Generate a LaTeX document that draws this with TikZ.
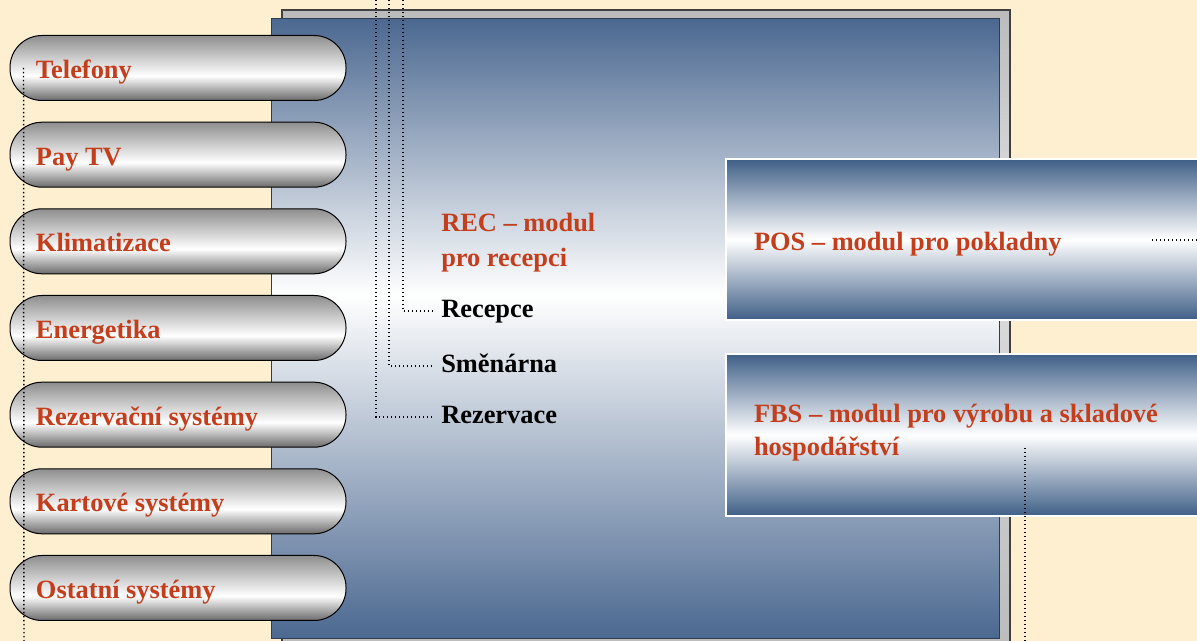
\documentclass[tikz,border=0pt]{standalone}
\usepackage{fontspec}
\setmainfont{Liberation Serif}

\definecolor{cream}{HTML}{FEEFD0}
\definecolor{panelblue}{HTML}{4B6890}
\definecolor{paneledge}{HTML}{2E3D52}
\definecolor{modblue}{HTML}{3F5F87}
\definecolor{pilltop}{HTML}{8E8E8E}
\definecolor{pillbot}{HTML}{6A6A6A}
\definecolor{platetop}{HTML}{BBBBBB}
\definecolor{platemid}{HTML}{E0E0E0}
\definecolor{plateedge}{HTML}{404040}
\definecolor{textred}{HTML}{C43E1C}

\pgfdeclareverticalshading{panel}{100bp}{color(0bp)=(panelblue); color(25bp)=(panelblue); color(52.7bp)=(white); color(75bp)=(panelblue); color(100bp)=(panelblue)}
\pgfdeclareverticalshading{pill}{100bp}{color(0bp)=(pillbot); color(25bp)=(pillbot); color(44bp)=(white); color(75bp)=(pilltop); color(100bp)=(pilltop)}
\pgfdeclareverticalshading{module}{100bp}{color(0bp)=(modblue); color(25bp)=(modblue); color(50bp)=(white); color(75bp)=(modblue); color(100bp)=(modblue)}
\pgfdeclareverticalshading{plate}{100bp}{color(0bp)=(platetop); color(25bp)=(platetop); color(58bp)=(platemid); color(75bp)=(platetop); color(100bp)=(platetop)}

\begin{document}
\begin{tikzpicture}[x=0.75pt,y=-0.75pt,
	pill node/.style={shade,shading=pill,draw=black,line width=0.75pt,rounded corners=24pt,
		minimum width=252pt,minimum height=48.75pt,inner xsep=19.5pt,text width=213pt,align=flush left,
		text height=16.6pt,text depth=1pt,
		text=textred,font=\bfseries\fontsize{19.8pt}{26pt}\selectfont},
	module box/.style={shade,shading=module,draw=white,line width=1.5pt,anchor=north west,
		minimum width=378.75pt,minimum height=120.75pt,inner xsep=21pt,text width=336.75pt,align=flush left,
		text=textred,font=\bfseries\fontsize{19.8pt}{24.75pt}\selectfont},
	module label/.style={anchor=north west,inner xsep=6pt,inner ysep=0pt,text height=15pt,align=left,
		text=textred,font=\bfseries\fontsize{19.8pt}{26.25pt}\selectfont},
	sub label/.style={anchor=west,inner xsep=6pt,text height=14pt,text depth=4pt,text=black,
		font=\bfseries\fontsize{19.8pt}{26pt}\selectfont},
	dot line/.style={line width=1.1pt,dash pattern=on 1pt off 2pt}]
	\useasboundingbox (0,0) rectangle (1197,641);
	\clip (0,0) rectangle (1197,641);
	\fill[cream] (0,0) rectangle (1197,641);
	\path[shade,shading=plate,draw=plateedge,line width=0.9pt] (282,10) rectangle (1010,660);
	\path[shade,shading=panel,draw=paneledge,line width=0.75pt] (271,18.7) rectangle (999,638.5);

	\node[pill node] (tel) at (178,68) {Telefony};
	\node[pill node] (paytv) at (178,154.7) {Pay TV};
	\node[pill node] (klima) at (178,241.3) {Klimatizace};
	\node[pill node] (energ) at (178,328) {Energetika};
	\node[pill node] (rezsys) at (178,414.7) {Rezervační systémy};
	\node[pill node] (karty) at (178,501.3) {Kartové systémy};
	\node[pill node] (ostatni) at (178,588) {Ostatní systémy};

	\node[module box,text height=18pt,text depth=0.8pt] (pos) at (725,158) {POS – modul pro pokladny};
	\node[module box,minimum height=121.5pt,text height=15pt,text depth=33pt] (fbs) at (725,353) {FBS – modul pro výrobu a skladové\\hospodářství};

	\node[module label] (rec) at (433,246) {REC – modul\\pro recepci};
	\node[sub label] (recepce) at (433,311) {Recepce};
	\node[sub label] (smenarna) at (433,366) {Směnárna};
	\node[sub label] (rezervace) at (433,417) {Rezervace};

	\coordinate (topa) at (403,0);
	\coordinate (topb) at (389,0);
	\coordinate (topc) at (376,0);
	\coordinate (leftend) at (24,641);
	\coordinate (posdots) at (1152,240);
	\coordinate (fbsdots) at (1025,448);
	\coordinate (fbsend) at (1025,641);

	\draw[dot line] (topa) |- (recepce.west);
	\draw[dot line] (topb) |- (smenarna.west);
	\draw[dot line] (topc) |- (rezervace.west);
	\draw[dot line] ([xshift=10.5pt]tel.west) -- (leftend);
	\draw[dot line] (posdots) -- (posdots -| pos.east);
	\draw[dot line] (fbsdots) -- (fbsend);
\end{tikzpicture}
\end{document}
